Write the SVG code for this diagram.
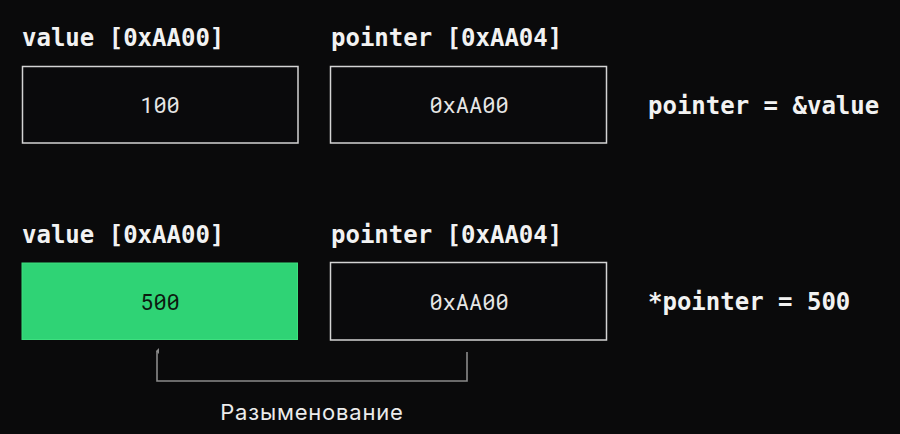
<svg xmlns="http://www.w3.org/2000/svg" width="900" height="434" viewBox="0 0 900 434">
<defs>
<style>
.lbl{font-family:"DejaVu Sans Mono","Liberation Mono",monospace;font-weight:bold;font-size:24px;fill:#f2f2f2}
.val{font-family:"Roboto Mono","DejaVu Sans Mono","Liberation Mono",monospace;font-size:22px;fill:#e6e6e6;text-anchor:middle}
.box{fill:#0a0a0c;stroke:#d4d4d4;stroke-width:1.5}
.conn{fill:none;stroke:#8a8a8a;stroke-width:1.6}
</style>
<marker id="ah" viewBox="0 0 6 6" refX="3" refY="1" markerWidth="6" markerHeight="6" markerUnits="userSpaceOnUse" orient="auto-start-reverse">
<path d="M0,3 L3,0 L6,3 Z" fill="#8a8a8a"/>
</marker>
</defs>
<rect width="900" height="434" fill="#0a0a0b"/>
<g id="value1">
<text class="lbl" x="22" y="46">value [0xAA00]</text>
<rect class="box" x="22.5" y="66.5" width="275.5" height="76.5"/>
<text class="val" x="160" y="113">100</text>
</g>
<g id="pointer1">
<text class="lbl" x="331" y="46">pointer [0xAA04]</text>
<rect class="box" x="330.5" y="66.5" width="276" height="76.5"/>
<text class="val" x="469" y="113">0xAA00</text>
</g>
<g id="expr1">
<text class="lbl" x="648" y="114">pointer = &amp;value</text>
</g>
<g id="value2">
<text class="lbl" x="22" y="243">value [0xAA00]</text>
<rect x="22" y="263" width="275.5" height="76.5" fill="#2fd375" stroke="#3de07f" stroke-width="1"/>
<text class="val" x="160" y="310" style="fill:#0c1a10">500</text>
</g>
<g id="pointer2">
<text class="lbl" x="331" y="243">pointer [0xAA04]</text>
<rect class="box" x="330.5" y="262.5" width="276" height="77.5"/>
<text class="val" x="469" y="310">0xAA00</text>
</g>
<g id="expr2">
<text class="lbl" x="648" y="310">*pointer = 500</text>
</g>
<g id="connectors">
<path class="conn" d="M467,352 V381 H157 V351" marker-end="url(#ah)"/>
</g>
<g id="deref-label">
<text x="312" y="420" style="font-family:Inter,Roboto,'Liberation Sans',sans-serif;font-size:22px;fill:#ececec;text-anchor:middle;letter-spacing:0.8px">Разыменование</text>
</g>
</svg>
